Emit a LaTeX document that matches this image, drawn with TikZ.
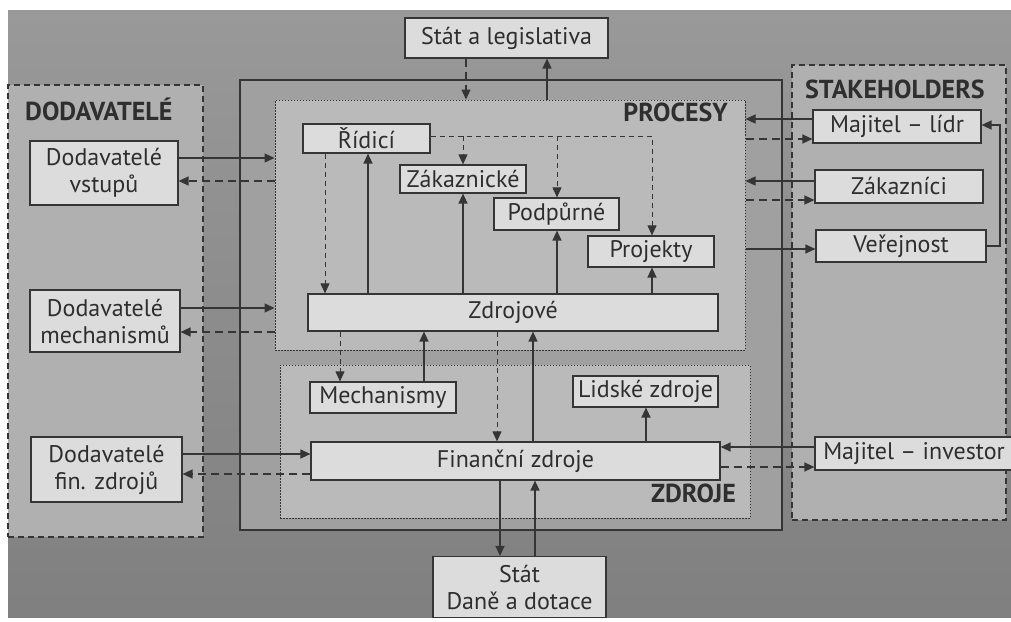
\documentclass[tikz,border=0pt]{standalone}
\usepackage{fontspec}
\setmainfont{PT Sans}
\usetikzlibrary{arrows.meta,calc}
\definecolor{lc}{HTML}{353535}
\definecolor{tc}{HTML}{2E2E2E}
\definecolor{nf}{HTML}{DCDCDC}
\definecolor{df}{HTML}{B0B0B0}
\definecolor{of}{HTML}{A0A0A0}
\definecolor{pf}{HTML}{BABABA}
\begin{document}
\begin{tikzpicture}[x=1pt,y=-1pt,
  box/.style={draw=lc, line width=1.2pt, fill=nf, inner sep=0pt, text=tc, align=center,
    font=\fontsize{24}{27}\selectfont},
  dcont/.style={draw=lc, line width=1.1pt, fill=df, dash pattern=on 6pt off 4pt, inner sep=0pt},
  ocont/.style={draw=lc, line width=1.3pt, fill=of, inner sep=0pt},
  pcont/.style={draw=lc, line width=1pt, fill=pf, dash pattern=on 1.5pt off 1.5pt, inner sep=0pt},
  lab/.style={text=tc, inner sep=0pt, font=\bfseries\fontsize{26}{29}\selectfont},
  sol/.style={draw=lc, line width=1.3pt, -{Triangle[length=10pt,width=9pt]}},
  dsh/.style={sol, dash pattern=on 8pt off 5pt},
  dshi/.style={sol, line width=1pt, dash pattern=on 5pt off 4pt}]
\useasboundingbox (0,0) rectangle (1011,621);
\fill[white] (0,0) rectangle (1011,621);
\shade[top color=black!40, bottom color=black!50] (8,10) rectangle (1011,617);

% containers
\node[dcont, minimum width=195pt, minimum height=452pt] (dod) at (105.5,311) {};
\node[dcont, minimum width=214pt, minimum height=455pt] (stake) at (899,292.5) {};
\node[ocont, minimum width=542pt, minimum height=450pt] (org) at (511,305) {};
\node[pcont, minimum width=470pt, minimum height=250pt] (procesy) at (510,225) {};
\node[pcont, minimum width=470pt, minimum height=153pt] (zdroje) at (515,441.5) {};
\node[lab, anchor=west] (ldod) at (25,109) {DODAVATELÉ};
\node[lab, anchor=east] (lproc) at (728,112) {PROCESY};
\node[lab, anchor=east] (lzdr) at (736,493) {ZDROJE};
\node[lab, anchor=west] (lstake) at (805,89) {STAKEHOLDERS};

% boxes
\node[box, minimum width=203pt, minimum height=40pt] (statl) at (506.5,38) {Stát a legislativa};
\node[box, minimum width=173pt, minimum height=61pt] (statd) at (519.5,587) {Stát\\Daně a dotace};
\node[box, minimum width=148pt, minimum height=64pt] (dodvst) at (104,173) {Dodavatelé\\vstupů};
\node[box, minimum width=150pt, minimum height=62pt] (dodmech) at (105,321) {Dodavatelé\\mechanismů};
\node[box, minimum width=151pt, minimum height=65pt] (dodfin) at (106.5,469.5) {Dodavatelé\\fin. zdrojů};
\node[box, minimum width=127pt, minimum height=29pt] (ridici) at (366.5,138.5) {Řídicí};
\node[box, minimum width=126pt, minimum height=28pt] (zakaz) at (463,179) {Zákaznické};
\node[box, minimum width=125pt, minimum height=32pt] (podp) at (556.5,214) {Podpůrné};
\node[box, minimum width=126pt, minimum height=31pt] (proj) at (651,251.5) {Projekty};
\node[box, minimum width=410pt, minimum height=37pt] (zdroj) at (513,312.5) {Zdrojové};
\node[box, minimum width=146pt, minimum height=31pt] (mech) at (383,397.5) {Mechanismy};
\node[box, minimum width=145pt, minimum height=31pt] (lidske) at (645.5,391.5) {Lidské zdroje};
\node[box, minimum width=409pt, minimum height=38pt] (fin) at (515.5,461) {Finanční zdroje};
\node[box, minimum width=168pt, minimum height=33pt] (majl) at (897,126.5) {Majitel – lídr};
\node[box, minimum width=168pt, minimum height=33pt] (zakazn) at (899,186.5) {Zákazníci};
\node[box, minimum width=170pt, minimum height=32pt] (verej) at (901,246) {Veřejnost};
\node[box, minimum width=198pt, minimum height=33pt] (majinv) at (914,453.5) {Majitel – investor};

% columns
\coordinate (kRa) at (325,0);
\coordinate (kRb) at (368,0);
\coordinate (kZ) at (463,0);
\coordinate (kP) at (557,0);
\coordinate (kJ) at (652,0);
\coordinate (kMa) at (340,0);
\coordinate (kMb) at (424,0);
\coordinate (kFa) at (497,0);
\coordinate (kFb) at (533,0);
\coordinate (kL) at (646,0);
\coordinate (kSa) at (500,0);
\coordinate (kSb) at (535,0);
\coordinate (kTa) at (466,0);
\coordinate (kTb) at (547,0);
\coordinate (kV) at (1000,0);
% rows
\coordinate (rR) at (0,136);
\coordinate (rVa) at (0,158);
\coordinate (rVb) at (0,181);
\coordinate (rMa) at (0,308);
\coordinate (rMb) at (0,332);
\coordinate (rFa) at (0,454);
\coordinate (rFb) at (0,474);
\coordinate (rLa) at (0,119);
\coordinate (rLb) at (0,139);
\coordinate (rZa) at (0,181);
\coordinate (rZb) at (0,200);
\coordinate (rV) at (0,249);
\coordinate (rIa) at (0,447);
\coordinate (rIb) at (0,467);
\coordinate (rLoop) at (0,125);

% process connectors
\draw[dshi] (ridici.east |- rR) -- (kJ |- rR) -- (proj.north -| kJ);
\draw[dshi] (kZ |- rR) -- (zakaz.north -| kZ);
\draw[dshi] (kP |- rR) -- (podp.north -| kP);
\draw[dshi] (ridici.south -| kRa) -- (zdroj.north -| kRa);
\draw[sol] (zdroj.north -| kRb) -- (ridici.south -| kRb);
\draw[sol] (zdroj.north -| kZ) -- (zakaz.south -| kZ);
\draw[sol] (zdroj.north -| kP) -- (podp.south -| kP);
\draw[sol] (zdroj.north -| kJ) -- (proj.south -| kJ);
\draw[dshi] (zdroj.south -| kMa) -- (mech.north -| kMa);
\draw[sol] (mech.north -| kMb) -- (zdroj.south -| kMb);
\draw[dshi] (zdroj.south -| kFa) -- (fin.north -| kFa);
\draw[sol] (fin.north -| kFb) -- (zdroj.south -| kFb);
\draw[sol] (fin.north -| kL) -- (lidske.south -| kL);
\draw[sol] (fin.south -| kSa) -- (statd.north -| kSa);
\draw[sol] (statd.north -| kSb) -- (fin.south -| kSb);
\draw[dsh] (statl.south -| kTa) -- (procesy.north -| kTa);
\draw[sol] (procesy.north -| kTb) -- (statl.south -| kTb);

% suppliers
\draw[sol] (dodvst.east |- rVa) -- (procesy.west |- rVa);
\draw[dsh] (procesy.west |- rVb) -- (dodvst.east |- rVb);
\draw[sol] (dodmech.east |- rMa) -- (procesy.west |- rMa);
\draw[dsh] (procesy.west |- rMb) -- (dodmech.east |- rMb);
\draw[sol] (dodfin.east |- rFa) -- (fin.west |- rFa);
\draw[dsh] (fin.west |- rFb) -- (dodfin.east |- rFb);

% stakeholders
\draw[sol] (majl.west |- rLa) -- (procesy.east |- rLa);
\draw[dsh] (procesy.east |- rLb) -- (majl.west |- rLb);
\draw[sol] (zakazn.west |- rZa) -- (procesy.east |- rZa);
\draw[dsh] (procesy.east |- rZb) -- (zakazn.west |- rZb);
\draw[sol] (procesy.east |- rV) -- (verej.west |- rV);
\draw[sol] (verej.east) -| (kV |- rLoop) -- (majl.east |- rLoop);
\draw[sol] (majinv.west |- rIa) -- (fin.east |- rIa);
\draw[dsh] (fin.east |- rIb) -- (majinv.west |- rIb);
\end{tikzpicture}
\end{document}
